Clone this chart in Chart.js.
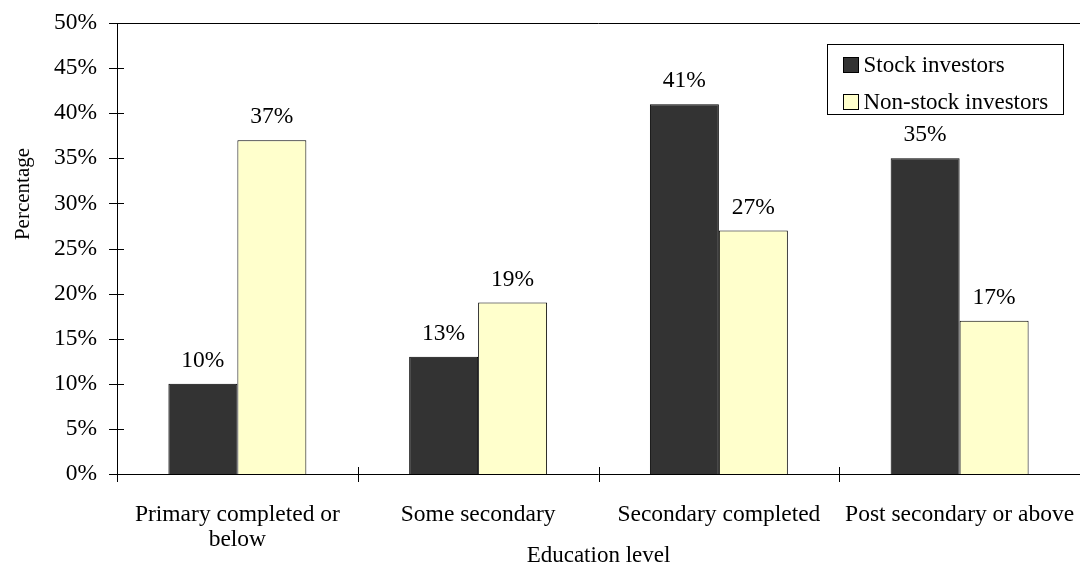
<!DOCTYPE html>
<html>
<head>
<meta charset="utf-8">
<script src="https://cdn.jsdelivr.net/npm/chart.js@4/dist/chart.umd.min.js"></script>
<style>
  html, body { margin: 0; padding: 0; background: #fff; }
  #wrap { width: 1080px; height: 567px; }
</style>
</head>
<body>
<div id="wrap"><canvas id="c"></canvas></div>
<script>
// 데이터
const categories = [
    ["Primary completed or", "below"],
    "Some secondary",
    "Secondary completed",
    "Post secondary or above"
];
const stockInvestors = [10, 13, 41, 35];
const nonStockInvestors = [37, 19, 27, 17];
const seriesNames = ["Stock investors", "Non-stock investors"];

const FONT = "'Liberation Serif', 'Times New Roman', serif";

// 막대 위 값 표시
const valueLabels = {
    id: 'valueLabels',
    afterDatasetsDraw(chart) {
        const ctx = chart.ctx;
        ctx.save();
        ctx.font = `23.5px ${FONT}`;
        ctx.fillStyle = '#000';
        ctx.textAlign = 'center';
        ctx.textBaseline = 'middle';
        chart.data.datasets.forEach((ds, i) => {
            chart.getDatasetMeta(i).data.forEach((bar, j) => {
                ctx.fillText(ds.data[j] + '%', bar.x, bar.y - 23);
            });
        });
        ctx.restore();
    }
};

// 축 눈금 (축선을 가로지르는 틱) + 상단 테두리 + y축 제목
const axisTicks = {
    id: 'axisTicks',
    afterDraw(chart) {
        const ctx = chart.ctx;
        const a = chart.chartArea;
        const y = chart.scales.y;
        ctx.save();
        ctx.strokeStyle = '#000';
        ctx.lineWidth = 1;
        ctx.beginPath();
        ctx.moveTo(a.left + 0.5, a.top);
        ctx.lineTo(a.left + 0.5, a.bottom);
        ctx.moveTo(a.left, a.top + 0.5);
        ctx.lineTo(a.right, a.top + 0.5);
        ctx.moveTo(a.left, a.bottom + 0.5);
        ctx.lineTo(a.right, a.bottom + 0.5);
        y.ticks.forEach((t, i) => {
            const py = Math.round(y.getPixelForTick(i)) + 0.5;
            ctx.moveTo(a.left - 8, py);
            ctx.lineTo(a.left + 7, py);
        });
        for (let i = 0; i <= categories.length; i++) {
            const px = Math.round(a.left + (a.right - a.left) * i / categories.length) + 0.5;
            ctx.moveTo(px, a.bottom - 7);
            ctx.lineTo(px, a.bottom + 8);
        }
        ctx.stroke();

        // y축 제목
        ctx.translate(23, 194);
        ctx.rotate(-Math.PI / 2);
        ctx.font = `21px ${FONT}`;
        ctx.fillStyle = '#000';
        ctx.textAlign = 'center';
        ctx.textBaseline = 'middle';
        ctx.fillText('Percentage', 0, 0);
        ctx.restore();
    }
};

// 범례 박스
const boxLegend = {
    id: 'boxLegend',
    afterDraw(chart) {
        const ctx = chart.ctx;
        const bx = 827.5, by = 44.5, bw = 236, bh = 70;
        ctx.save();
        ctx.fillStyle = '#fff';
        ctx.fillRect(bx, by, bw, bh);
        ctx.strokeStyle = '#000';
        ctx.lineWidth = 1;
        ctx.strokeRect(bx, by, bw, bh);
        ctx.font = `23px ${FONT}`;
        ctx.textBaseline = 'middle';
        chart.data.datasets.forEach((ds, i) => {
            const cy = by + 20 + i * 37;
            ctx.fillStyle = ds.backgroundColor;
            ctx.fillRect(bx + 16, cy - 7, 15, 15);
            ctx.strokeRect(bx + 16, cy - 7, 15, 15);
            ctx.fillStyle = '#000';
            ctx.fillText(ds.label, bx + 36, cy + 1);
        });
        ctx.restore();
    }
};

new Chart(document.getElementById('c'), {
    type: 'bar',
    data: {
        labels: categories,
        datasets: [
            {
                label: seriesNames[0],
                data: stockInvestors,
                backgroundColor: '#333333',
                borderColor: '#000',
                borderWidth: 1
            },
            {
                label: seriesNames[1],
                data: nonStockInvestors,
                backgroundColor: '#FFFFCC',
                borderColor: '#000',
                borderWidth: 1
            }
        ]
    },
    options: {
        responsive: true,
        maintainAspectRatio: false,
        animation: false,
        devicePixelRatio: 1,
        categoryPercentage: 0.573,
        barPercentage: 1,
        layout: { padding: { top: 23, right: 0, left: 0, bottom: 0 } },
        plugins: {
            legend: { display: false },
            tooltip: { enabled: false }
        },
        scales: {
            x: {
                grid: { display: false, drawTicks: false },
                border: { display: false },
                ticks: {
                    color: '#000',
                    font: { family: FONT, size: 23.5, lineHeight: 1.08 },
                    maxRotation: 0,
                    autoSkip: false,
                    padding: 28
                },
                title: {
                    display: true,
                    text: 'Education level',
                    color: '#000',
                    font: { family: FONT, size: 23, lineHeight: 1 },
                    padding: { top: 0, bottom: 0 }
                },
                afterFit: function(axis) {
                    axis.height = 93;
                    axis.paddingLeft = 0;
                    axis.paddingRight = 0;
                }
            },
            y: {
                min: 0,
                max: 50,
                grid: { display: false, drawTicks: false },
                border: { display: false },
                ticks: {
                    stepSize: 5,
                    color: '#000',
                    font: { family: FONT, size: 23.5 },
                    padding: 20,
                    callback: function(value) {
                        return value + '%';
                    }
                },
                afterFit: function(axis) {
                    axis.width = 117;
                    axis.paddingTop = 0;
                    axis.paddingBottom = 0;
                }
            }
        }
    },
    plugins: [valueLabels, axisTicks, boxLegend]
});
</script>
</body>
</html>
